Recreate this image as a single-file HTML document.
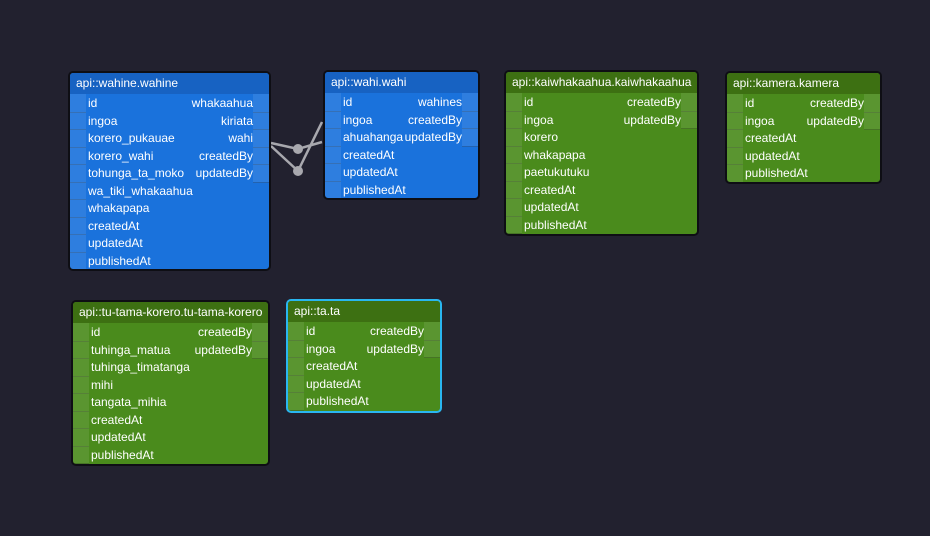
<!DOCTYPE html>
<html><head><meta charset="utf-8"><style>
*{margin:0;padding:0;box-sizing:border-box}
body{width:930px;height:536px;background:#22212f;position:relative;overflow:hidden;font-family:"Liberation Sans",sans-serif;font-size:12px;color:#fff}
.t{position:absolute;border:2px solid #0e0e14;border-radius:5px;overflow:hidden}
.h{height:21px;line-height:21px;padding-left:6px;font-size:12px;white-space:nowrap}
.r{height:17.5px;line-height:18px;position:relative;padding-left:16px;white-space:nowrap}
.r:before{content:"";position:absolute;left:0;top:0;width:16px;height:17.5px;background:rgba(255,255,255,.09);border-bottom:1px solid rgba(0,0,0,.22)}
.r span{padding-left:2px}
.r b{font-weight:normal;position:absolute;right:16px;top:0}
.r b:after{content:"";position:absolute;right:-16px;top:0;width:16px;height:17.5px;background:rgba(255,255,255,.09);border-bottom:1px solid rgba(0,0,0,.22)}
.blue{background:#1a72dc}.blue .h{background:#1762c2}
.green{background:#4a8b1c}.green .h{background:#3d7012}
</style></head><body>
<svg style="position:absolute;left:0;top:0" width="930" height="536">
<g stroke="#a8a8ae" stroke-width="2.5" fill="none">
<polyline points="271,143 298,149 322,142"/>
<polyline points="271,146 298,171 322,122"/>
</g>
<circle cx="298" cy="149" r="5" fill="#a8a8ae"/>
<circle cx="298" cy="171" r="5" fill="#a8a8ae"/>
</svg>

<div class="t blue" style="left:68px;top:71px;width:203px;height:200px">
<div class="h">api::wahine.wahine</div>
<div class="r"><span>id</span><b>whakaahua</b></div>
<div class="r"><span>ingoa</span><b>kiriata</b></div>
<div class="r"><span>korero_pukauae</span><b>wahi</b></div>
<div class="r"><span>korero_wahi</span><b>createdBy</b></div>
<div class="r"><span>tohunga_ta_moko</span><b>updatedBy</b></div>
<div class="r"><span>wa_tiki_whakaahua</span></div>
<div class="r"><span>whakapapa</span></div>
<div class="r"><span>createdAt</span></div>
<div class="r"><span>updatedAt</span></div>
<div class="r"><span>publishedAt</span></div>
</div>

<div class="t blue" style="left:323px;top:70px;width:157px;height:130px">
<div class="h">api::wahi.wahi</div>
<div class="r"><span>id</span><b>wahines</b></div>
<div class="r"><span>ingoa</span><b>createdBy</b></div>
<div class="r"><span>ahuahanga</span><b>updatedBy</b></div>
<div class="r"><span>createdAt</span></div>
<div class="r"><span>updatedAt</span></div>
<div class="r"><span>publishedAt</span></div>
</div>

<div class="t green" style="left:504px;top:70px;width:195px;height:166px">
<div class="h">api::kaiwhakaahua.kaiwhakaahua</div>
<div class="r"><span>id</span><b>createdBy</b></div>
<div class="r"><span>ingoa</span><b>updatedBy</b></div>
<div class="r"><span>korero</span></div>
<div class="r"><span>whakapapa</span></div>
<div class="r"><span>paetukutuku</span></div>
<div class="r"><span>createdAt</span></div>
<div class="r"><span>updatedAt</span></div>
<div class="r"><span>publishedAt</span></div>
</div>

<div class="t green" style="left:725px;top:71px;width:157px;height:113px">
<div class="h">api::kamera.kamera</div>
<div class="r"><span>id</span><b>createdBy</b></div>
<div class="r"><span>ingoa</span><b>updatedBy</b></div>
<div class="r"><span>createdAt</span></div>
<div class="r"><span>updatedAt</span></div>
<div class="r"><span>publishedAt</span></div>
</div>

<div class="t green" style="left:71px;top:300px;width:199px;height:166px">
<div class="h">api::tu-tama-korero.tu-tama-korero</div>
<div class="r"><span>id</span><b>createdBy</b></div>
<div class="r"><span>tuhinga_matua</span><b>updatedBy</b></div>
<div class="r"><span>tuhinga_timatanga</span></div>
<div class="r"><span>mihi</span></div>
<div class="r"><span>tangata_mihia</span></div>
<div class="r"><span>createdAt</span></div>
<div class="r"><span>updatedAt</span></div>
<div class="r"><span>publishedAt</span></div>
</div>

<div class="t green" style="left:286px;top:299px;width:156px;height:114px;border-color:#29b6f0">
<div class="h">api::ta.ta</div>
<div class="r"><span>id</span><b>createdBy</b></div>
<div class="r"><span>ingoa</span><b>updatedBy</b></div>
<div class="r"><span>createdAt</span></div>
<div class="r"><span>updatedAt</span></div>
<div class="r"><span>publishedAt</span></div>
</div>
</body></html>
